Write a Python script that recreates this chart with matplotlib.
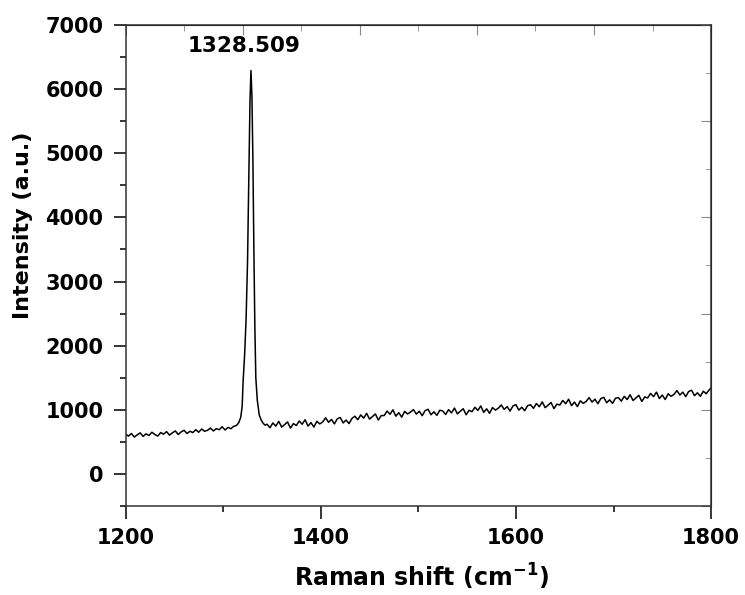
import numpy as np
import matplotlib
matplotlib.use('Agg')
import matplotlib.pyplot as plt
from matplotlib.ticker import MultipleLocator

plt.rcParams['font.family'] = ['DejaVu Sans']
plt.rcParams['font.weight'] = 'bold'
plt.rcParams['mathtext.fontset'] = 'custom'
plt.rcParams['mathtext.rm'] = 'DejaVu Sans:bold'
plt.rcParams['mathtext.bf'] = 'DejaVu Sans:bold'
plt.rcParams['mathtext.default'] = 'bf'

# spectrum: baseline before the peak, the peak, baseline after
x_pre = np.arange(1200, 1312, 3)
y_pre = [620, 590, 630, 575, 610, 640, 585, 625, 600, 650,
         615, 590, 645, 620, 660, 605, 640, 670, 615, 655,
         680, 630, 665, 645, 690, 650, 700, 665, 680, 715,
         670, 705, 690, 735, 685, 725, 705, 745]

x_peak = [1312, 1314, 1316, 1318, 1319.5, 1320.5, 1322, 1323.5, 1325, 1326.5,
          1327.5, 1328.5, 1329.5, 1330.5, 1331.5, 1332.5, 1333.5, 1335, 1337,
          1339, 1341, 1343]
y_peak = [745, 760, 800, 880, 1050, 1450, 1850, 2400, 3300, 4800,
          5800, 6290, 5900, 4900, 3500, 2300, 1500, 1150, 920,
          840, 790, 760]

x_post = list(np.arange(1345, 1800, 3)) + [1800]
y_post = [775, 720, 795, 745, 820, 730, 770, 810, 715, 785,
          755, 825, 775, 845, 745, 800, 730, 820, 780, 810,
          875, 805, 850, 780, 860, 880, 795, 840, 785, 865,
          900, 845, 920, 870, 945, 855, 895, 935, 840, 910,
          910, 980, 930, 1000, 900, 955, 885, 975, 935, 965,
          1003, 933, 978, 908, 988, 1008, 923, 968, 913, 993,
          982, 927, 1002, 952, 1027, 937, 977, 1017, 922, 992,
          970, 1040, 990, 1060, 960, 1015, 945, 1035, 995, 1025,
          1075, 1005, 1050, 980, 1060, 1080, 995, 1040, 985, 1065,
          1078, 1023, 1098, 1048, 1123, 1033, 1073, 1113, 1018, 1088,
          1075, 1145, 1095, 1165, 1065, 1120, 1050, 1140, 1100, 1130,
          1190, 1120, 1165, 1095, 1175, 1195, 1110, 1155, 1100, 1180,
          1190, 1135, 1210, 1160, 1235, 1145, 1185, 1225, 1130, 1200,
          1185, 1255, 1205, 1275, 1175, 1230, 1160, 1250, 1210, 1240,
          1300, 1230, 1275, 1205, 1285, 1305, 1220, 1265, 1210, 1290,
          1250, 1310, 1340]

peak_label = '1328.509'
peak_pos = 1328.509

x = np.concatenate([x_pre, x_peak, x_post])
y = np.concatenate([y_pre, y_peak, y_post])

fig = plt.figure(figsize=(7.45, 5.95), dpi=100)
ax = fig.add_axes([0.1685, 0.1496, 0.7860, 0.8084])

ax.plot(x, y, color='black', lw=1.1)

ax.set_xlim(1200, 1800)
ax.set_ylim(-500, 7000)
ax.xaxis.set_major_locator(MultipleLocator(200))
ax.xaxis.set_minor_locator(MultipleLocator(100))
ax.yaxis.set_major_locator(MultipleLocator(1000))
ax.yaxis.set_minor_locator(MultipleLocator(500))
ax.tick_params(which='major', direction='out', length=9, width=1.1,
               labelsize=15, pad=7, top=False, right=False)
ax.tick_params(which='minor', direction='out', length=4.5, width=1.1,
               top=False, right=False)
for s in ax.spines.values():
    s.set_linewidth(1.1)
    s.set_color('#333333')

# faint inward ticks on top and right (Origin-style secondary axes)
top = ax.secondary_xaxis('top')
top.set_xticks([1200, 1320, 1440, 1560, 1680, 1800])
top.set_xticks([1260, 1380, 1500, 1620, 1740], minor=True)
top.tick_params(which='major', direction='in', length=7, color='#888888', labeltop=False)
top.tick_params(which='minor', direction='in', length=4, color='#888888')
right = ax.secondary_yaxis('right')
right.set_yticks([-500, 1000, 2500, 4000, 5500, 7000])
right.set_yticks([250, 1750, 3250, 4750, 6250], minor=True)
right.tick_params(which='major', direction='in', length=7, color='#888888', labelright=False)
right.tick_params(which='minor', direction='in', length=4, color='#888888')

ax.set_xlabel(r'Raman shift (cm$^{-1}$)', fontsize=17, fontweight='bold')
ax.set_ylabel('Intensity (a.u.)', fontsize=16, fontweight='bold')
ax.xaxis.set_label_coords(0.505, -0.115)
ax.yaxis.set_label_coords(-0.158, 0.584)

ax.text(peak_pos - 7, 6680, peak_label, fontsize=15.5, fontweight='bold',
        ha='center', va='center')

fig.savefig('out.png', dpi=100)
